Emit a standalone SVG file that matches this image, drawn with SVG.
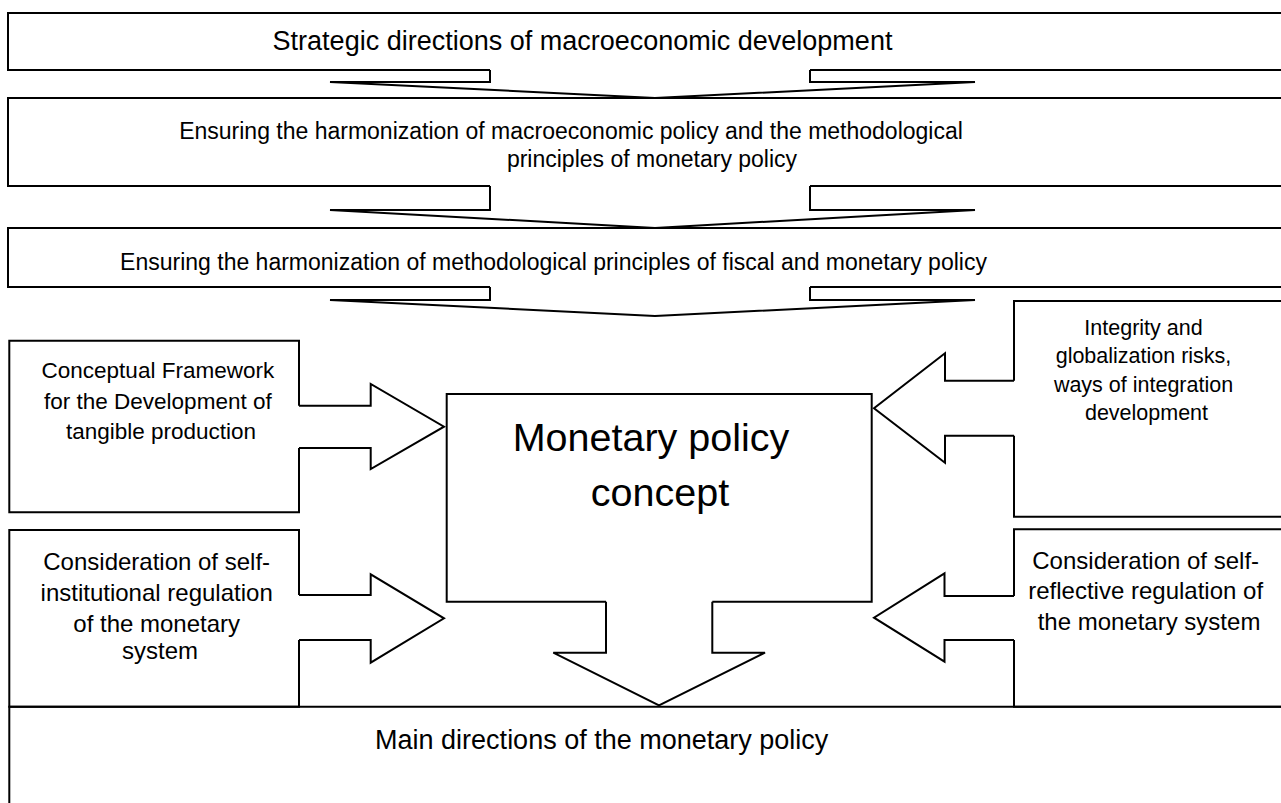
<svg xmlns="http://www.w3.org/2000/svg" width="1281" height="803" viewBox="0 0 1281 803">
  <style>
    .box { fill: none; stroke: #000; stroke-width: 2; stroke-linejoin: miter; }
    .arrow { fill: #fff; stroke: #000; stroke-width: 2; stroke-linejoin: miter; }
    text { font-family: "Liberation Sans", Arial, sans-serif; fill: #000; text-anchor: middle; }
  </style>
  <rect x="0" y="0" width="1281" height="803" fill="#fff"/>

  <!-- block arrows between and into the boxes -->
  <g id="connectors">
    <polyline class="arrow" points="490,70 490,82 330,82 655,98 975,82 810,82 810,70"/>
    <polyline class="arrow" points="490,186 490,210 330,210 655,228 975,210 810,210 810,186"/>
    <polyline class="arrow" points="490,287 490,300 330,300 655,316 975,300 810,300 810,287"/>
    <polyline class="arrow" points="299,405.7 370.7,405.7 370.7,384 444,426.7 370.7,469 370.7,448 299,448"/>
    <polyline class="arrow" points="299,595 370.7,595 370.7,574.3 444,618.3 370.7,662.7 370.7,640 299,640"/>
    <polyline class="arrow" points="1014,380.7 945,380.7 945,353.3 874,408.3 945,462.7 945,435.7 1014,435.7"/>
    <polyline class="arrow" points="1014,596 944.5,596 944.5,573.3 874,617.7 944.5,661.7 944.5,640 1014,640"/>
    <polyline class="arrow" points="606,601.7 606,652.7 553.3,652.7 659,705.3 765,652.7 712.3,652.7 712.3,601.7"/>
  </g>

  <g id="strategic-directions">
    <path class="box" d="M490,70 H8 V13 H1290 M810,70 H1290"/>
    <text x="582.5" y="49.5" font-size="27">Strategic directions of macroeconomic development</text>
  </g>

  <g id="macro-monetary-harmonization">
    <path class="box" d="M490,186 H8 V98 H1290 M810,186 H1290"/>
    <text x="571" y="139" font-size="23">Ensuring the harmonization of macroeconomic policy and the methodological</text>
    <text x="652" y="167" font-size="23">principles of monetary policy</text>
  </g>

  <g id="fiscal-monetary-harmonization">
    <path class="box" d="M490,287 H8 V228 H1290 M810,287 H1290"/>
    <text x="553.5" y="270" font-size="23">Ensuring the harmonization of methodological principles of fiscal and monetary policy</text>
  </g>

  <g id="conceptual-framework">
    <path class="box" d="M299,405.7 V340.7 H9.3 V512.3 H299 V448"/>
    <text font-size="22.5">
      <tspan x="161" y="378.3">Conceptual Framework</tspan>
      <tspan x="161" y="409">for the Development of</tspan>
      <tspan x="161" y="438.5">tangible production</tspan>
    </text>
  </g>

  <g id="integrity-globalization">
    <path class="box" d="M1290,301 H1014 V380.7 M1014,435.7 V516.7 H1290"/>
    <text font-size="21.5">
      <tspan x="1146.5" y="335">Integrity and</tspan>
      <tspan x="1146.5" y="363.3">globalization risks,</tspan>
      <tspan x="1146.5" y="391.7">ways of integration</tspan>
      <tspan x="1146.5" y="420">development</tspan>
    </text>
  </g>

  <g id="monetary-policy-concept">
    <path class="box" d="M606,601.7 H446.7 V394 H871.7 V601.7 H712.3"/>
    <text font-size="39.5">
      <tspan x="656.5" y="451">Monetary policy</tspan>
      <tspan x="660" y="506">concept</tspan>
    </text>
  </g>

  <g id="self-institutional-regulation">
    <path class="box" d="M299,595 V530 H9.3 V706.7 H299 V640"/>
    <text font-size="24">
      <tspan x="160" y="570">Consideration of self-</tspan>
      <tspan x="160" y="601">institutional regulation</tspan>
      <tspan x="160" y="631.7">of the monetary</tspan>
      <tspan x="160" y="659">system</tspan>
    </text>
  </g>

  <g id="self-reflective-regulation">
    <path class="box" d="M1014,596 V529.3 H1290 M1014,640 V706.7 H1290"/>
    <text font-size="24">
      <tspan x="1149" y="569.3">Consideration of self-</tspan>
      <tspan x="1149" y="599.3">reflective regulation of</tspan>
      <tspan x="1149" y="630">the monetary system</tspan>
    </text>
  </g>

  <g id="main-directions">
    <path class="box" d="M9.3,820 V706.7 H1290"/>
    <text x="601.7" y="749.3" font-size="27">Main directions of the monetary policy</text>
  </g>
</svg>
